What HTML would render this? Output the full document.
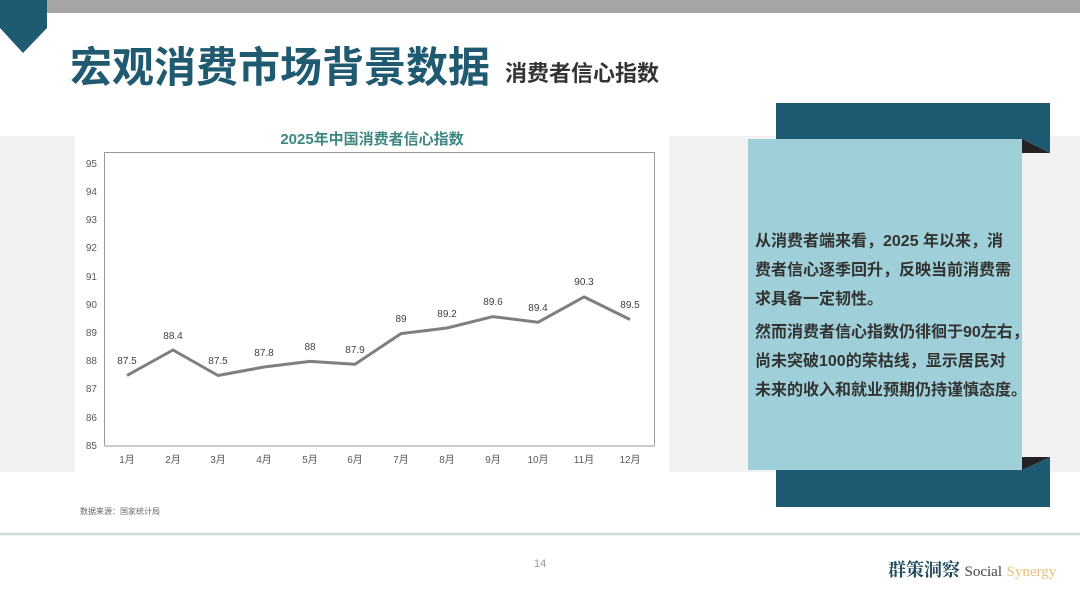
<!DOCTYPE html>
<html><head><meta charset="utf-8"><style>
body{margin:0;width:1080px;height:608px;overflow:hidden;background:#fff;position:relative;font-family:"Liberation Sans","Noto Sans CJK SC",sans-serif}
.a{position:absolute}
</style></head><body>
<div class="a" style="left:47px;top:0;width:1033px;height:13px;background:#a6a6a6"></div>
<svg class="a" style="left:0;top:0" width="50" height="56"><polygon points="0,0 47,0 47,28 23,53 0,28" fill="#1f5a73"/></svg>
<div class="a" style="left:70px;top:40px;font-size:42px;font-weight:bold;color:#1f5a70;white-space:nowrap;line-height:56px">宏观消费市场背景数据</div>
<div class="a" style="left:505px;top:59px;font-size:22px;font-weight:bold;color:#333;white-space:nowrap;line-height:30px">消费者信心指数</div>
<div class="a" style="left:0;top:136px;width:1080px;height:336px;background:#f2f2f2"></div>
<div class="a" style="left:75px;top:125px;width:594px;height:347px;background:#fff"></div>
<div class="a" style="left:75px;top:128px;width:594px;text-align:center;font-size:15px;font-weight:bold;color:#3d8782">2025年中国消费者信心指数</div>
<svg class="a" style="left:0;top:0" width="1080" height="608" font-family="Liberation Sans, Noto Sans CJK SC, sans-serif">
<rect x="104.5" y="152.5" width="550" height="293.5" fill="#fff" stroke="#999" stroke-width="1"/>
<line x1="104" y1="446" x2="655" y2="446" stroke="#ccc" stroke-width="2"/>
<g font-size="10" fill="#595959" text-anchor="end">
<text x="97" y="167">95</text><text x="97" y="195">94</text><text x="97" y="223">93</text><text x="97" y="251">92</text><text x="97" y="280">91</text><text x="97" y="308">90</text><text x="97" y="336">89</text><text x="97" y="364">88</text><text x="97" y="392">87</text><text x="97" y="421">86</text><text x="97" y="449">85</text>
</g>
<g font-size="10" fill="#595959" text-anchor="middle">
<text x="127" y="463">1月</text><text x="173" y="463">2月</text><text x="218" y="463">3月</text><text x="264" y="463">4月</text><text x="310" y="463">5月</text><text x="355" y="463">6月</text><text x="401" y="463">7月</text><text x="447" y="463">8月</text><text x="493" y="463">9月</text><text x="538" y="463">10月</text><text x="584" y="463">11月</text><text x="630" y="463">12月</text>
</g>
<polyline fill="none" stroke="#7f7f7f" stroke-width="3" stroke-linejoin="round" points="127,375.5 173,350 218,375.5 264,367 310,361.4 355,364.2 401,333.6 447,328 493,316.6 538,322.3 584,296.9 630,319.5"/>
<g font-size="10" fill="#404040" text-anchor="middle">
<text x="127" y="364">87.5</text><text x="173" y="339">88.4</text><text x="218" y="364">87.5</text><text x="264" y="356">87.8</text><text x="310" y="350">88</text><text x="355" y="353">87.9</text><text x="401" y="322">89</text><text x="447" y="317">89.2</text><text x="493" y="305">89.6</text><text x="538" y="311">89.4</text><text x="584" y="285">90.3</text><text x="630" y="308">89.5</text>
</g>
<rect x="776" y="103" width="274" height="36" fill="#1f5a73"/>
<rect x="776" y="470" width="274" height="37" fill="#1f5a73"/>
<polygon points="1022,139 1050,153 1050,139" fill="#1f5a73"/>
<polygon points="1022,139 1050,153 1022,153" fill="#222"/>
<polygon points="1022,470 1050,457 1050,470" fill="#1f5a73"/>
<polygon points="1022,470 1050,457 1022,457" fill="#222"/>
<rect x="748" y="139" width="274" height="331" fill="#9fd0d9"/>
<line x1="0" y1="534" x2="1080" y2="534" stroke="#c9ddd2" stroke-width="2.5"/>
</svg>
<div class="a" style="left:755px;top:227px;width:300px;font-size:16px;font-weight:bold;color:#333;line-height:29px;white-space:nowrap">
<div>从消费者端来看，2025 年以来，消<br>费者信心逐季回升，反映当前消费需<br>求具备一定韧性。</div>
<div style="margin-top:4px">然而消费者信心指数仍徘徊于90左右，<br>尚未突破100的荣枯线，显示居民对<br>未来的收入和就业预期仍持谨慎态度。</div>
</div>
<div class="a" style="left:80px;top:506px;font-size:8px;color:#666">数据来源：国家统计局</div>
<div class="a" style="left:534px;top:558px;font-size:11px;color:#999">14</div>
<div class="a" style="left:888px;top:556px;font-size:18px;font-weight:bold;color:#1f4a5a;font-family:'Liberation Serif','Noto Serif CJK SC',serif;white-space:nowrap">群策洞察 <span style="font-weight:normal;font-size:15px;color:#444">Social</span> <span style="font-weight:normal;font-size:15px;color:#e6c27a">Synergy</span></div>
</body></html>
